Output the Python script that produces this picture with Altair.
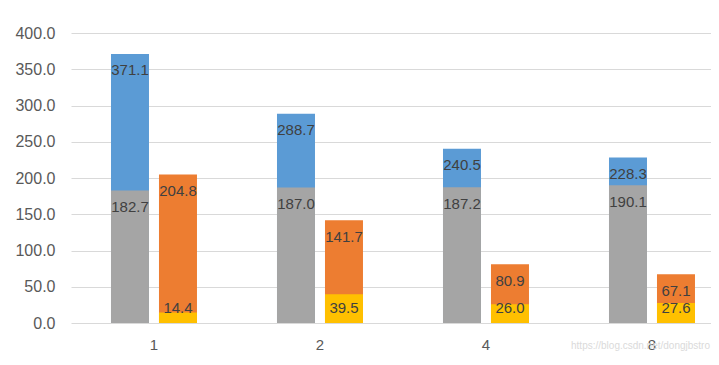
import altair as alt
import pandas as pd

categories = ["1", "2", "4", "8"]
blue_vals = [371.1, 288.7, 240.5, 228.3]
gray_vals = [182.7, 187.0, 187.2, 190.1]
orange_vals = [204.8, 141.7, 80.9, 67.1]
yellow_vals = [14.4, 39.5, 26.0, 27.6]
y_ticks = [0, 50, 100, 150, 200, 250, 300, 350, 400]

rows = []
for i, c in enumerate(categories):
    rows.append(dict(cat=c, side="L", role="total", series="blue", value=blue_vals[i]))
    rows.append(dict(cat=c, side="L", role="part", series="gray", value=gray_vals[i]))
    rows.append(dict(cat=c, side="R", role="total", series="orange", value=orange_vals[i]))
    rows.append(dict(cat=c, side="R", role="part", series="yellow", value=yellow_vals[i]))
df = pd.DataFrame(rows)

FONT = "Liberation Sans"

x_enc = alt.X(
    "cat:N",
    sort=categories,
    title=None,
    scale=alt.Scale(paddingInner=0.482, paddingOuter=0.1687, align=0.714),
    axis=alt.Axis(labelAngle=0, labelFont=FONT, labelFontSize=15, labelColor="#595959",
                  ticks=False, domain=False, labelPadding=14, grid=False),
)
xoff = alt.XOffset("side:N", sort=["L", "R"],
                   scale=alt.Scale(paddingInner=0.2083, paddingOuter=0))
y_scale = alt.Scale(domain=[0, 400], nice=False)
y_axis = alt.Axis(values=y_ticks, tickCount=9, format=".1f", labelFont=FONT, labelFontSize=16,
                  labelColor="#595959", ticks=False, domain=False, labelPadding=16,
                  labelOverlap=False, gridColor="#D9D9D9", gridWidth=1)
y_enc = alt.Y("value:Q", scale=y_scale, title=None, axis=y_axis)
color_enc = alt.Color(
    "series:N",
    scale=alt.Scale(domain=["blue", "gray", "orange", "yellow"],
                    range=["#5B9BD5", "#A5A5A5", "#ED7D31", "#FFC000"]),
    legend=None,
)

base = alt.Chart(df)
totals = base.transform_filter("datum.role == 'total'").mark_bar().encode(
    x=x_enc, xOffset=xoff, y=y_enc, color=color_enc)
parts = base.transform_filter("datum.role == 'part'").mark_bar().encode(
    x=x_enc, xOffset=xoff, y=y_enc, color=color_enc)
labels = base.transform_calculate(
    pos="max(datum.value, 43)"
).mark_text(font=FONT, fontSize=15, color="#404040", baseline="middle", dy=16.5).encode(
    x=x_enc, xOffset=xoff,
    y=alt.Y("pos:Q", scale=y_scale, title=None, axis=y_axis),
    text=alt.Text("value:Q", format=".1f"),
)
watermark = alt.Chart(pd.DataFrame({"t": ["https://blog.csdn.net/dongjbstro"]})).mark_text(
    font=FONT, fontSize=10, color="#DADADA", align="right", baseline="middle"
).encode(text="t:N", x=alt.value(639), y=alt.value(313))

chart = alt.layer(totals, parts, labels, watermark).properties(
    width=640, height=290,
    autosize=alt.AutoSizeParams(type="none"),
    padding={"left": 63, "top": 25, "right": 0, "bottom": 34},
).configure_view(stroke=None)

chart.save("out.html", embed_options={"renderer": "svg", "actions": False})
